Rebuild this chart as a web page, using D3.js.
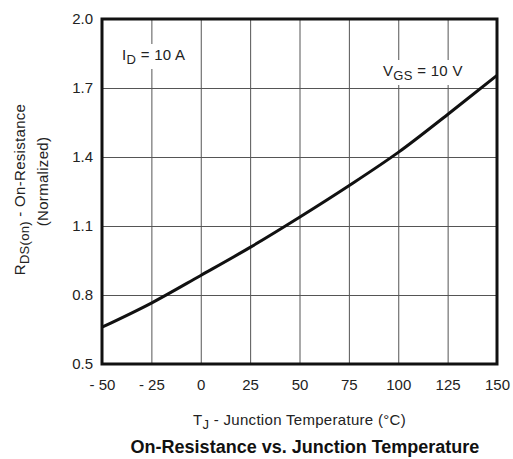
<!DOCTYPE html>
<html>
<head>
<meta charset="utf-8">
<script src="https://cdn.jsdelivr.net/npm/d3@7"></script>
<style>
  body { margin: 0; background: #fff; }
  svg { font-family: "Liberation Sans", Arial, sans-serif; }
</style>
</head>
<body>
<div id="chart"></div>
<script>
// values
const temps = [-50, -25, 0, 25, 50, 75, 100, 125, 150];
const rdsOn = [0.66, 0.765, 0.885, 1.007, 1.138, 1.275, 1.42, 1.585, 1.755];
const xTicks = [-50, -25, 0, 25, 50, 75, 100, 125, 150];
const yTicks = [0.5, 0.8, 1.1, 1.4, 1.7, 2.0];

const W = 513, H = 459;
const margin = { top: 19, right: 16, bottom: 95, left: 102 };
const w = W - margin.left - margin.right;
const h = H - margin.top - margin.bottom;

const svg = d3.select('#chart').append('svg')
    .attr('width', W)
    .attr('height', H);

const g = svg.append('g')
    .attr('transform', `translate(${margin.left},${margin.top})`);

const x = d3.scaleLinear().domain([-50, 150]).range([0, w]);
const y = d3.scaleLinear().domain([0.5, 2.0]).range([h, 0]);

const xAxis = g.append('g')
    .attr('transform', `translate(0,${h})`)
    .call(d3.axisBottom(x)
        .tickValues(xTicks)
        .tickSize(-h)
        .tickPadding(15)
        .tickFormat(d => d < 0 ? '- ' + Math.abs(d) : d));

const yAxis = g.append('g')
    .call(d3.axisLeft(y)
        .tickValues(yTicks)
        .tickSize(-w)
        .tickPadding(9)
        .tickFormat(d3.format('.1f')));

[xAxis, yAxis].forEach(a => {
    a.select('.domain').remove();
    a.selectAll('line').attr('stroke', '#555').attr('stroke-width', 1);
    a.selectAll('text').attr('fill', '#222').style('font-size', '15px');
});

// labels inside the plot sit on white so the grid breaks round them
function label(parts, px, py) {
    const t = g.append('text')
        .attr('x', px)
        .attr('y', py)
        .attr('fill', '#222')
        .style('font-size', '15px')
        .style('letter-spacing', '0.3px');
    parts.forEach(p => {
        t.append('tspan')
            .attr('dy', p.dy || 0)
            .style('font-size', p.sub ? '13px' : null)
            .text(p.t);
    });
    const bb = t.node().getBBox();
    g.insert('rect', function () { return t.node(); })
        .attr('x', bb.x - 3)
        .attr('y', bb.y - 2)
        .attr('width', bb.width + 6)
        .attr('height', bb.height + 4)
        .attr('fill', '#fff');
}

label([{ t: 'I' }, { t: 'D', sub: true, dy: 4 }, { t: ' = 10 A', dy: -4 }], 20, 41);
label([{ t: 'V' }, { t: 'GS', sub: true, dy: 4 }, { t: ' = 10 V', dy: -4 }], 281, 57);

const line = d3.line()
    .x((d, i) => x(temps[i]))
    .y(d => y(d))
    .curve(d3.curveCatmullRom);

g.append('path')
    .datum(rdsOn)
    .attr('d', line)
    .attr('fill', 'none')
    .attr('stroke', '#111')
    .attr('stroke-width', 3);

// frame
g.append('rect')
    .attr('width', w)
    .attr('height', h)
    .attr('fill', 'none')
    .attr('stroke', '#111')
    .attr('stroke-width', 3);

// axis titles
const xt = svg.append('text')
    .attr('x', margin.left + w / 2)
    .attr('y', 425)
    .attr('text-anchor', 'middle')
    .attr('fill', '#222')
    .style('font-size', '15px')
    .style('letter-spacing', '0.3px');
xt.append('tspan').text('T');
xt.append('tspan').attr('dy', 4).style('font-size', '13px').text('J');
xt.append('tspan').attr('dy', -4).text(' - Junction Temperature (°C)');

const cy = margin.top + h / 2;
const yt = svg.append('text')
    .attr('transform', `translate(25,${cy - 2}) rotate(-90)`)
    .attr('text-anchor', 'middle')
    .attr('fill', '#222')
    .style('font-size', '15px')
    .style('letter-spacing', '0.3px');
yt.append('tspan').text('R');
yt.append('tspan').attr('dy', 4).style('font-size', '13px').text('DS(on)');
yt.append('tspan').attr('dy', -4).text(' - On-Resistance');

svg.append('text')
    .attr('transform', `translate(48,${cy - 10}) rotate(-90)`)
    .attr('text-anchor', 'middle')
    .attr('fill', '#222')
    .style('font-size', '15px')
    .style('letter-spacing', '0.3px')
    .text('(Normalized)');

svg.append('text')
    .attr('x', 305)
    .attr('y', 453)
    .attr('text-anchor', 'middle')
    .attr('fill', '#111')
    .style('font-size', '18px')
    .style('font-weight', 'bold')
    .text('On-Resistance vs. Junction Temperature');
</script>
</body>
</html>
